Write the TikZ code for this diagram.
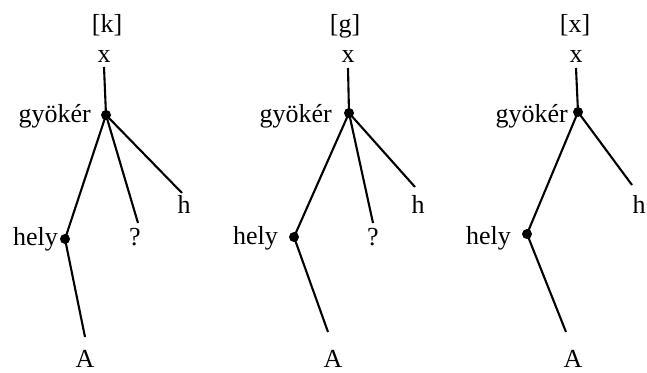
\documentclass[tikz,border=0pt]{standalone}
\usepackage{fontspec}
\setmainfont{Liberation Serif}
\begin{document}
\begin{tikzpicture}[x=1pt,y=-1pt,
  lbl/.style={inner sep=0pt, font=\fontsize{26}{29}\selectfont},
  dot/.style={circle, fill=black, inner sep=0pt, minimum size=10pt},
  edge/.style={line width=2.1pt}]
\useasboundingbox (0,0) rectangle (647,372);
% ---------- tree 1 ----------
\node[lbl, anchor=base] (t1) at (107,32) {[k]};
\node[lbl, anchor=base] (x1) at (104,62) {x};
\node[dot] (r1) at (106,115) {};
\node[lbl, anchor=base east] (g1) at (91,122) {gyökér};
\node[dot] (p1) at (65,239) {};
\node[lbl, anchor=base east] (hl1) at (58,245) {hely};
\node[lbl, anchor=base] (q1) at (135,245) {?};
\node[lbl, anchor=base] (h1) at (184,213) {h};
\node[lbl, anchor=base] (a1) at (85,367) {A};
\coordinate (x1e) at (104,67);
\coordinate (q1e) at (138,223);
\coordinate (h1e) at (182,193);
\coordinate (a1e) at (85,337);
\draw[edge] (x1e) -- (r1.center);
\draw[edge] (r1.center) -- (p1.center);
\draw[edge] (r1.center) -- (q1e);
\draw[edge] (r1.center) -- (h1e);
\draw[edge] (p1.center) -- (a1e);
% ---------- tree 2 ----------
\node[lbl, anchor=base] (t2) at (345,32) {[g]};
\node[lbl, anchor=base] (x2) at (348,62) {x};
\node[dot] (r2) at (349,113) {};
\node[lbl, anchor=base east] (g2) at (332,122) {gyökér};
\node[dot] (p2) at (294,237) {};
\node[lbl, anchor=base east] (hl2) at (278,244) {hely};
\node[lbl, anchor=base] (q2) at (373,245) {?};
\node[lbl, anchor=base] (h2) at (418,213) {h};
\node[lbl, anchor=base] (a2) at (333,367) {A};
\coordinate (x2e) at (348,68);
\coordinate (q2e) at (373,223);
\coordinate (h2e) at (415,187);
\coordinate (a2e) at (328,332);
\draw[edge] (x2e) -- (r2.center);
\draw[edge] (r2.center) -- (p2.center);
\draw[edge] (r2.center) -- (q2e);
\draw[edge] (r2.center) -- (h2e);
\draw[edge] (p2.center) -- (a2e);
% ---------- tree 3 ----------
\node[lbl, anchor=base] (t3) at (575,32) {[x]};
\node[lbl, anchor=base] (x3) at (576,62) {x};
\node[dot] (r3) at (578,112) {};
\node[lbl, anchor=base east] (g3) at (568,122) {gyökér};
\node[dot] (p3) at (527,234) {};
\node[lbl, anchor=base east] (hl3) at (511,244) {hely};
\node[lbl, anchor=base] (h3) at (639,213) {h};
\node[lbl, anchor=base] (a3) at (573,367) {A};
\coordinate (x3e) at (576,68);
\coordinate (h3e) at (632,185);
\coordinate (a3e) at (566,332);
\draw[edge] (x3e) -- (r3.center);
\draw[edge] (r3.center) -- (p3.center);
\draw[edge] (r3.center) -- (h3e);
\draw[edge] (p3.center) -- (a3e);
\end{tikzpicture}
\end{document}
